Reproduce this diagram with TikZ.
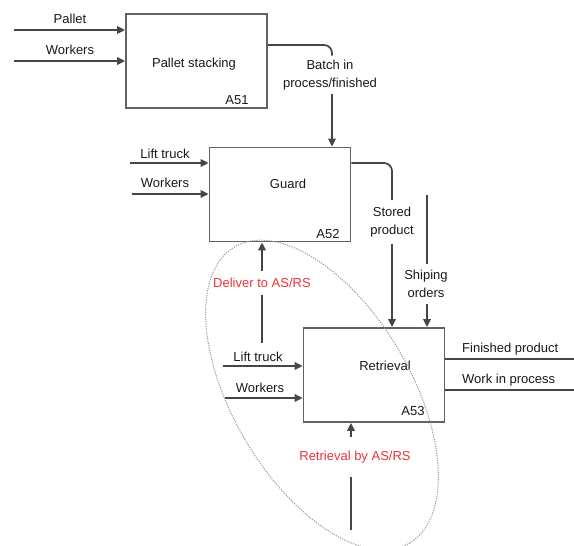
\documentclass[tikz,border=0pt]{standalone}
\usepackage{fontspec}
\setmainfont{Liberation Sans}
\usetikzlibrary{arrows.meta,calc}
\definecolor{asrsred}{RGB}{232,52,58}
\definecolor{linegray}{RGB}{70,70,70}

\tikzset{
  box/.style={draw=linegray!85, line width=1.8pt, minimum width=141pt, minimum height=94pt, inner sep=0pt},
  wire/.style={draw=linegray, line width=1.7pt},
  flow/.style={wire, -{Triangle[length=8pt,width=7.5pt]}},
  lbl/.style={font=\fontsize{13}{18}\selectfont, inner sep=1pt, text=black!90, align=center},
  redlbl/.style={lbl, text=asrsred},
  gap/.style={inner ysep=#1},
  hull/.style={draw=gray!80, line width=1pt, dash pattern=on 1.2pt off 1.2pt},
}

\begin{document}
\begin{tikzpicture}[x=1pt,y=-1pt]
    \useasboundingbox (0,0) rectangle (574,546);
    % activity boxes
    \node[box] (a51) at (196.5,61) {};
    \node[box] (a52) at (280,194.5) {};
    \node[box] (a53) at (374,375) {};
    \node[lbl] (t51) at (194,64) {Pallet stacking};
    \node[lbl] (t52) at (288,184) {Guard};
    \node[lbl] (t53) at (385,366) {Retrieval};
    \node[lbl] (n51) at (237,100) {A51};
    \node[lbl] (n52) at (328,234) {A52};
    \node[lbl] (n53) at (413,411) {A53};

    % inputs
    \coordinate (pallet) at (14,30);
    \coordinate (work51) at (14,61);
    \coordinate (lift52) at (130,163);
    \coordinate (work52) at (132,194);
    \coordinate (lift53) at (223,366);
    \coordinate (work53) at (225,398);
    \draw[flow] (pallet) -- (pallet -| a51.west);
    \draw[flow] (work51) -- (work51 -| a51.west);
    \draw[flow] (lift52) -- (lift52 -| a52.west);
    \draw[flow] (work52) -- (work52 -| a52.west);
    \draw[flow] (lift53) -- (lift53 -| a53.west);
    \draw[flow] (work53) -- (work53 -| a53.west);
    \node[lbl] (lpallet) at (70,19) {Pallet};
    \node[lbl] (lwork51) at (70,50) {Workers};
    \node[lbl] (llift52) at (165,154) {Lift truck};
    \node[lbl] (lwork52) at (165,183) {Workers};
    \node[lbl] (llift53) at (258,357) {Lift truck};
    \node[lbl] (lwork53) at (260,388) {Workers};

    % A51 -> A52
    \coordinate (batch) at (332,45);
    \node[lbl, gap=4pt] (lbatch) at (330,75) {Batch in\\process/finished};
    \draw[wire, rounded corners=8pt] (a51.east |- batch) -| (batch |- lbatch.north);
    \draw[flow] (batch |- lbatch.south) -- (batch |- a52.north);

    % A52 -> A53
    \coordinate (stored) at (392,163);
    \node[lbl, gap=6.5pt] (lstored) at (392,222) {Stored\\product};
    \draw[wire, rounded corners=8pt] (a52.east |- stored) -| (stored |- lstored.north);
    \draw[flow] (stored |- lstored.south) -- (stored |- a53.north);

    % control
    \coordinate (ship) at (427,195);
    \node[lbl, gap=6.5pt] (lship) at (426,284) {Shiping\\orders};
    \draw[wire] (ship) -- (ship |- lship.north);
    \draw[flow] (ship |- lship.south) -- (ship |- a53.north);

    % outputs
    \coordinate (fin) at (574,359);
    \coordinate (wip) at (574,390);
    \draw[wire] (a53.east |- fin) -- (fin);
    \draw[wire] (a53.east |- wip) -- (wip);
    \node[lbl, anchor=west] (lfin) at (461,349) {Finished product};
    \node[lbl, anchor=west] (lwip) at (461,380) {Work in process};

    % mechanisms
    \coordinate (deliv) at (262,343);
    \node[redlbl, gap=7.5pt] (ldeliv) at (262,283) {Deliver to AS/RS};
    \draw[wire] (deliv) -- (deliv |- ldeliv.south);
    \draw[flow] (deliv |- ldeliv.north) -- (deliv |- a52.south);
    \coordinate (mech) at (351,530);
    \node[redlbl, gap=14pt] (lmech) at (355,457) {Retrieval by AS/RS};
    \draw[wire] (mech) -- (mech |- lmech.south);
    \draw[flow] (mech |- lmech.north) -- (mech |- a53.south);

    % AS/RS grouping
    \draw[hull, rotate around={-59.4:(322,395)}] (322,395) ellipse [x radius=172pt, y radius=89pt];
\end{tikzpicture}
\end{document}
